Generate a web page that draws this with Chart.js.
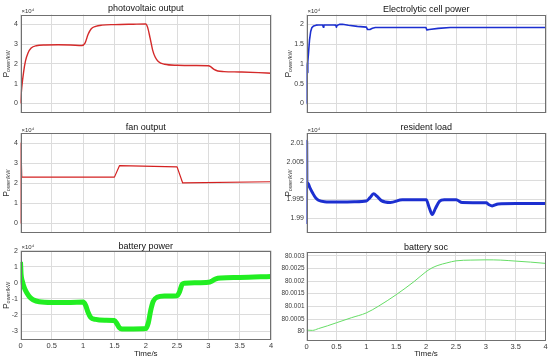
<!DOCTYPE html>
<html>
<head>
<meta charset="utf-8">
<script src="https://cdn.jsdelivr.net/npm/chart.js@4.4.1/dist/chart.umd.min.js"></script>
<style>
  html, body { margin: 0; padding: 0; background: #fff; }
  #wrap { position: relative; width: 550px; height: 361px; overflow: hidden; }
  #wrap canvas { position: absolute; }
</style>
</head>
<body>
<div id="wrap">
  <canvas id="pv" width="280" height="120" style="left:0;top:0"></canvas>
  <canvas id="el" width="270" height="120" style="left:280px;top:0"></canvas>
  <canvas id="fan" width="280" height="120" style="left:0;top:120px"></canvas>
  <canvas id="load" width="270" height="120" style="left:280px;top:120px"></canvas>
  <canvas id="bat" width="280" height="121" style="left:0;top:240px"></canvas>
  <canvas id="soc" width="270" height="121" style="left:280px;top:240px"></canvas>
</div>
<script>
// time axis (s)
const xTicks = [0, 0.5, 1, 1.5, 2, 2.5, 3, 3.5, 4];

// photovoltaic output (x10^4 kW)
const pvTime = [0, 0.02, 0.05, 0.08, 0.12, 0.17, 0.25, 0.4, 0.6, 0.8, 0.98, 1.03, 1.08, 1.13, 1.2, 1.3, 1.5, 1.8, 2.0, 2.03, 2.07, 2.11, 2.15, 2.2, 2.3, 2.5, 2.8, 3.0, 3.04, 3.09, 3.15, 3.25, 3.5, 3.8, 4.0];
const pvPower = [0, 0.8, 1.6, 2.15, 2.55, 2.8, 2.92, 2.96, 2.97, 2.96, 2.93, 3.05, 3.5, 3.78, 3.9, 3.96, 3.99, 4.01, 4.02, 3.85, 3.3, 2.7, 2.35, 2.12, 1.98, 1.93, 1.92, 1.91, 1.85, 1.72, 1.64, 1.61, 1.59, 1.56, 1.53];
const pvTicks = [0, 1, 2, 3, 4];

// electrolytic cell power (x10^4 kW)
const elTime = [0, 0.006, 0.011, 0.018, 0.025, 0.035, 0.05, 0.07, 0.09, 0.12, 0.16, 0.2, 0.27, 0.28, 0.29, 0.45, 0.49, 0.5, 0.51, 0.55, 0.6, 0.7, 0.85, 1.0, 1.02, 1.06, 1.1, 1.15, 1.5, 1.995, 2.01, 2.05, 2.2, 2.4, 3.0, 4.0];
const elPower = [0, 0.95, 1.02, 0.78, 1.05, 1.3, 1.6, 1.82, 1.92, 1.96, 1.98, 1.985, 1.985, 1.93, 1.985, 1.985, 1.98, 1.93, 1.97, 2.0, 2.005, 1.98, 1.95, 1.93, 1.87, 1.87, 1.9, 1.92, 1.92, 1.92, 1.86, 1.87, 1.9, 1.92, 1.92, 1.92];
const elTicks = [0, 0.5, 1, 1.5, 2];

// fan output (x10^4 kW)
const fanTime = [0, 0.006, 0.02, 1.5, 1.58, 2.5, 2.59, 4.0];
const fanPower = [0, 4.0, 2.3, 2.3, 2.87, 2.81, 2.01, 2.07];
const fanTicks = [0, 1, 2, 3, 4];

// resident load (x10^4 kW)
const loadTime = [0, 0.003, 0.006, 0.01, 0.03, 0.06, 0.1, 0.15, 0.2, 0.3, 0.5, 0.8, 1.0, 1.06, 1.12, 1.18, 1.25, 1.4, 1.6, 2.0, 2.05, 2.1, 2.15, 2.22, 2.3, 2.5, 2.6, 3.0, 3.05, 3.1, 3.2, 3.5, 4.0];
const loadPower = [1.9885, 2.0105, 1.9998, 1.9995, 1.9992, 1.998, 1.9968, 1.9955, 1.9948, 1.9944, 1.9943, 1.9944, 1.9946, 1.9955, 1.9965, 1.9958, 1.9947, 1.9942, 1.9949, 1.9949, 1.9928, 1.991, 1.9925, 1.9945, 1.9949, 1.9949, 1.9942, 1.9941, 1.9936, 1.9933, 1.9938, 1.9939, 1.9939];
const loadTicks = [1.99, 1.995, 2, 2.005, 2.01];

// battery power (x10^4 kW)
const batTime = [0, 0.01, 0.03, 0.06, 0.1, 0.15, 0.2, 0.3, 0.5, 0.8, 1.0, 1.04, 1.08, 1.12, 1.2, 1.35, 1.5, 1.54, 1.58, 1.62, 1.8, 2.0, 2.04, 2.08, 2.12, 2.18, 2.3, 2.5, 2.54, 2.58, 2.62, 2.8, 3.0, 3.06, 3.12, 3.2, 3.5, 4.0];
const batPower = [1.3, 0.5, 0.1, -0.3, -0.62, -0.9, -1.05, -1.18, -1.22, -1.22, -1.2, -1.4, -1.85, -2.15, -2.28, -2.33, -2.35, -2.55, -2.8, -2.87, -2.87, -2.85, -2.5, -1.7, -1.15, -0.9, -0.82, -0.8, -0.55, -0.1, -0.02, 0, 0.03, 0.12, 0.25, 0.3, 0.33, 0.4];
const batTicks = [-3, -2, -1, 0, 1, 2];

// battery soc
const socTime = [0, 0.1, 0.2, 0.35, 0.5, 0.75, 1.0, 1.2, 1.5, 1.8, 2.0, 2.1, 2.2, 2.35, 2.5, 2.75, 3.0, 3.25, 3.5, 3.75, 4.0];
const socValue = [80.00006, 80.00005, 80.00012, 80.00023, 80.00035, 80.00055, 80.00074, 80.001, 80.00146, 80.00198, 80.00237, 80.00252, 80.00262, 80.00272, 80.0028, 80.00283, 80.00284, 80.00283, 80.00279, 80.00275, 80.0027];
const socTicks = [80, 80.0005, 80.001, 80.0015, 80.002, 80.0025, 80.003];

const FONT = '"Liberation Sans", Arial, sans-serif';

// box, x10^4 note and P_ower/kW label, drawn the MATLAB way
const decor = {
  id: 'decor',
  afterDraw(chart, args, o) {
    const { ctx, chartArea: a } = chart;
    ctx.save();
    ctx.strokeStyle = '#707070';
    ctx.lineWidth = 1;
    const l = Math.round(a.left) + 0.5, t = Math.round(a.top) + 0.5;
    const r = Math.round(a.right) - 0.5, b = Math.round(a.bottom) - 0.5;
    ctx.strokeRect(l, t, r - l, b - t);

    ctx.fillStyle = '#333';
    if (o.exponent) {
      ctx.font = '6px ' + FONT;
      ctx.textBaseline = 'alphabetic';
      ctx.textAlign = 'left';
      ctx.fillText('\u00d710\u2074', a.left + 1, a.top - 1.5);
    }
    if (o.ylabelX) {
      ctx.translate(o.ylabelX, (a.top + a.bottom) / 2);
      ctx.rotate(-Math.PI / 2);
      ctx.textBaseline = 'middle';
      ctx.textAlign = 'left';
      ctx.font = '8.5px ' + FONT;
      const wP = ctx.measureText('P').width;
      ctx.font = '5.6px ' + FONT;
      const wS = ctx.measureText('ower/kW').width;
      const x0 = -(wP + wS) / 2;
      ctx.font = '8.5px ' + FONT;
      ctx.fillText('P', x0, 0);
      ctx.font = '5.6px ' + FONT;
      ctx.fillText('ower/kW', x0 + wP, 1.6);
    }
    ctx.restore();
  }
};

function makePanel(id, p) {
  const canvas = document.getElementById(id);
  const W = canvas.width, H = canvas.height;
  const lh = 0.85 * 9;
  const padTop = p.titleY - lh / 2;
  const padBottom = p.box.top - padTop - lh;

  new Chart(canvas, {
    type: 'line',
    data: {
      datasets: [{
        data: p.time.map((t, i) => ({ x: t, y: p.values[i] })),
        borderColor: p.color,
        borderWidth: p.width,
        borderJoinStyle: 'round',
        pointRadius: 0,
        fill: false,
        tension: p.smooth ? 0.4 : 0,
        cubicInterpolationMode: p.smooth ? 'monotone' : 'default'
      }]
    },
    options: {
      responsive: false,
      animation: false,
      layout: { padding: { left: 0, top: 0, bottom: 0, right: W - p.box.right } },
      plugins: {
        legend: { display: false },
        tooltip: { enabled: false },
        title: {
          display: true,
          text: p.title,
          fullSize: false,
          color: '#111',
          font: { family: FONT, size: 9, weight: 'normal', lineHeight: 0.85 },
          padding: { top: padTop, bottom: padBottom }
        },
        decor: { exponent: p.exponent, ylabelX: p.ylabelX }
      },
      scales: {
        x: {
          type: 'linear',
          min: 0,
          max: 4,
          afterBuildTicks: s => { s.ticks = xTicks.map(v => ({ value: v })); },
          afterFit: s => { s.height = H - p.box.bottom; },
          grid: { color: '#dcdcdc', drawTicks: false },
          border: { display: false },
          ticks: {
            display: p.showX,
            color: '#3a3a3a',
            padding: 1.5,
            maxRotation: 0,
            font: { family: FONT, size: 7.5 },
            callback: v => String(v)
          },
          title: {
            display: p.showX,
            text: 'Time/s',
            color: '#222',
            font: { family: FONT, size: 8, lineHeight: 1 },
            padding: { top: 0, bottom: 3.3 }
          }
        },
        y: {
          min: p.yMin,
          max: p.yMax,
          afterBuildTicks: s => { s.ticks = p.yTicks.map(v => ({ value: v })); },
          afterFit: s => { s.width = p.box.left; },
          grid: { color: '#dcdcdc', drawTicks: false },
          border: { display: false },
          ticks: {
            color: '#3a3a3a',
            padding: p.tickPad || 2.5,
            font: { family: FONT, size: p.tickSize || 7 },
            callback: v => String(v)
          }
        }
      }
    },
    plugins: [decor]
  });
}

makePanel('pv', {
  title: 'photovoltaic output', time: pvTime, values: pvPower, yTicks: pvTicks,
  yMin: -0.5, yMax: 4.5, color: '#d42a2a', width: 1.4, smooth: true,
  box: { left: 20.5, top: 14.5, right: 271, bottom: 116 }, titleY: 9,
  exponent: true, ylabelX: 6.7, showX: false
});
makePanel('el', {
  title: 'Electrolytic cell power', time: elTime, values: elPower, yTicks: elTicks,
  yMin: -0.25, yMax: 2.25, color: '#1c2fd0', width: 1.6, smooth: false,
  box: { left: 26.5, top: 14.5, right: 266, bottom: 116 }, titleY: 9.3,
  exponent: true, ylabelX: 9, showX: false
});
makePanel('fan', {
  title: 'fan output', time: fanTime, values: fanPower, yTicks: fanTicks,
  yMin: -0.5, yMax: 4.5, color: '#d42020', width: 1.2, smooth: false,
  box: { left: 20.5, top: 13, right: 271, bottom: 114 }, titleY: 8,
  exponent: true, ylabelX: 6.7, showX: false
});
makePanel('load', {
  title: 'resident load', time: loadTime, values: loadPower, yTicks: loadTicks,
  yMin: 1.986, yMax: 2.0127, color: '#1c2fd0', width: 3, smooth: true,
  box: { left: 26.5, top: 13, right: 266, bottom: 114 }, titleY: 8,
  exponent: true, ylabelX: 9, showX: false
});
makePanel('bat', {
  title: 'battery power', time: batTime, values: batPower, yTicks: batTicks,
  yMin: -3.56, yMax: 2, color: '#22ee22', width: 5, smooth: true,
  box: { left: 20.5, top: 10.7, right: 271, bottom: 100 }, titleY: 6.7,
  exponent: true, ylabelX: 6.7, showX: true
});
makePanel('soc', {
  title: 'battery soc', time: socTime, values: socValue, yTicks: socTicks,
  yMin: 79.99963, yMax: 80.003166, color: '#66dd66', width: 1, smooth: true,
  box: { left: 26.5, top: 11.6, right: 265.5, bottom: 101 }, titleY: 7.3,
  exponent: false, ylabelX: 0, showX: true, tickSize: 6.4, tickPad: 2
});
</script>
</body>
</html>
